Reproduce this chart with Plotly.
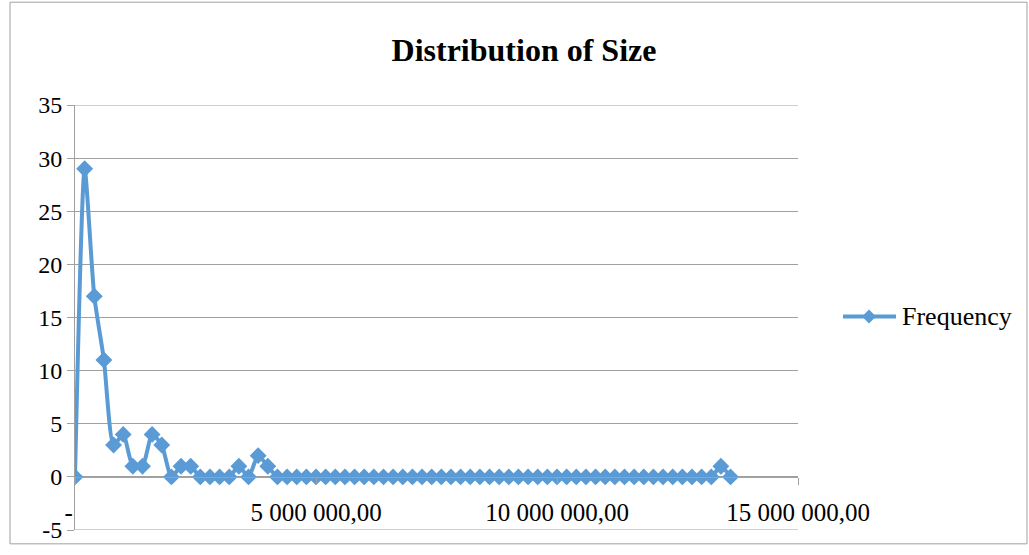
import plotly.graph_objects as go

# Size bins (lower edge of each 200 000 wide bin) and their frequencies
bin_step = 200_000
frequency = [
    0, 29, 17, 11, 3, 4, 1, 1, 4, 3,
    0, 1, 1, 0, 0, 0, 0, 1, 0, 2,
    1, 0, 0, 0, 0, 0, 0, 0, 0, 0,
    0, 0, 0, 0, 0, 0, 0, 0, 0, 0,
    0, 0, 0, 0, 0, 0, 0, 0, 0, 0,
    0, 0, 0, 0, 0, 0, 0, 0, 0, 0,
    0, 0, 0, 0, 0, 0, 0, 1, 0,
]
size = [i * bin_step for i in range(len(frequency))]
series_name = "Frequency"

x_tick_vals = [0, 5_000_000, 10_000_000, 15_000_000]
x_tick_text = ["-\u00a0\u00a0", "5 000 000,00", "10 000 000,00", "15 000 000,00"]
y_tick_vals = [-5, 0, 5, 10, 15, 20, 25, 30, 35]
y_tick_text = ["-5", "0", "5", "10", "15", "20", "25", "30", "35"]
y_range = [-5, 35]

W, H = 1029, 555
L, R, T, B = 75, 231, 105, 20
plot_w, plot_h = W - L - R, H - T - B

BLUE = "#5B9BD5"
GRID = "#A0A0A0"
FONT = "Liberation Serif, Times New Roman, serif"


def px_x(p):
    return (p - L) / plot_w


def px_y(p):
    return (H - B - p) / plot_h


fig = go.Figure()
fig.add_trace(go.Scatter(
    x=size, y=frequency, name=series_name, mode="lines+markers",
    line=dict(color=BLUE, width=4, shape="spline", smoothing=0.6),
    marker=dict(symbol="diamond", size=13, color=BLUE),
    showlegend=False,
))

# Legend entry drawn by hand: line sample, diamond, label
lx0, lx1, ly, lc, ds = 843, 896, 319, 869, 7
legend_shapes = [
    dict(type="line", xref="paper", yref="paper",
         x0=px_x(lx0), x1=px_x(lx1), y0=px_y(ly), y1=px_y(ly),
         line=dict(color=BLUE, width=4)),
    dict(type="path", xref="paper", yref="paper",
         path=(f"M {px_x(lc - ds)},{px_y(ly)} L {px_x(lc)},{px_y(ly - ds)} "
               f"L {px_x(lc + ds)},{px_y(ly)} L {px_x(lc)},{px_y(ly + ds)} Z"),
         fillcolor=BLUE, line=dict(color=BLUE, width=0)),
]

# Horizontal gridlines at both ends of the value range
edge_lines = [
    dict(type="line", xref="paper", yref="y", x0=0, x1=1, y0=v, y1=v,
         line=dict(color=GRID, width=1), layer="below")
    for v in y_range
]

frame = dict(type="rect", xref="paper", yref="paper",
             x0=px_x(10), x1=px_x(1027), y0=px_y(549), y1=px_y(1),
             line=dict(color=GRID, width=1), fillcolor="rgba(0,0,0,0)",
             layer="below")

fig.update_layout(
    width=W, height=H,
    margin=dict(l=L, r=R, t=T, b=B),
    paper_bgcolor="white", plot_bgcolor="white",
    font=dict(family=FONT, color="black", size=24),
    title=dict(text="<b>Distribution of Size</b>", x=524 / W, xref="container",
               xanchor="center", y=1 - 50 / H, yref="container", yanchor="middle",
               font=dict(family=FONT, size=32, color="black")),
    showlegend=False,
    xaxis=dict(range=[0, 15_000_000], tickvals=x_tick_vals, ticktext=x_tick_text,
               showgrid=False, zeroline=False, showline=True, linecolor=GRID, linewidth=1,
               ticks="outside", ticklen=7, tickcolor=GRID, ticklabelstandoff=6,
               anchor="free", position=(0 - y_range[0]) / (y_range[1] - y_range[0]),
               tickfont=dict(family=FONT, size=25, color="black")),
    yaxis=dict(range=y_range, tickvals=y_tick_vals, ticktext=y_tick_text,
               showgrid=True, gridcolor=GRID, gridwidth=1,
               zeroline=False, showline=True, linecolor=GRID, linewidth=1,
               ticks="outside", ticklen=7, tickcolor=GRID,
               tickfont=dict(family=FONT, size=24, color="black")),
    shapes=[frame] + edge_lines + legend_shapes,
    annotations=[dict(text=series_name, xref="paper", yref="paper",
                      x=px_x(900), y=px_y(ly), xanchor="left", yanchor="middle",
                      showarrow=False, font=dict(family=FONT, size=26, color="black"))],
)

fig.write_html("out.html")
